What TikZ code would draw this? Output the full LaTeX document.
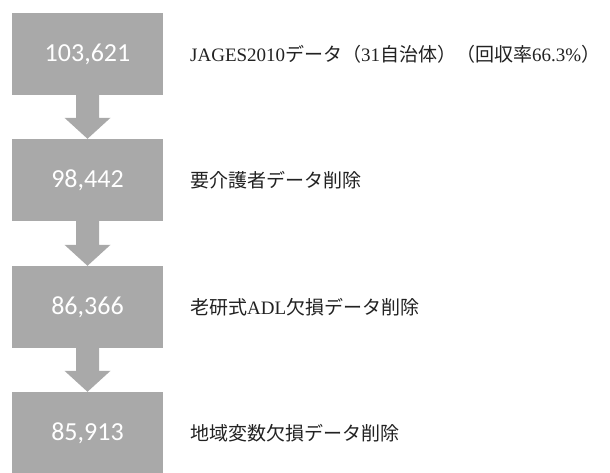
\documentclass[tikz,border=0pt]{standalone}
\usepackage{fontspec}
\setmainfont{Liberation Serif}
\newfontfamily\jpfont{Noto Sans CJK JP}
\newfontfamily\numfont{Carlito}
\usetikzlibrary{calc}
\definecolor{boxgray}{HTML}{A9A9A9}
\definecolor{labelink}{HTML}{222222}
\tikzset{
  x=1pt,y=1pt,
  stepbox/.style={fill=boxgray, draw=none, minimum width=151pt, minimum height=82pt, inner sep=0pt,
    font=\numfont\fontsize{26}{30}\selectfont, text=white},
  steplabel/.style={anchor=west, inner sep=0pt, font=\fontsize{19}{22}\selectfont, text=labelink},
  arrowfill/.style={fill=boxgray, draw=none}
}
\newcommand\flowarrow[2]{%
  \fill[arrowfill] ($(#1.south)+(-11.5,0)$) -- ($(#2.north)+(-11.5,21)$) -- ($(#2.north)+(-23,21)$)
    -- (#2.north) -- ($(#2.north)+(23,21)$) -- ($(#2.north)+(11.5,21)$) -- ($(#1.south)+(11.5,0)$) -- cycle;}
\begin{document}
\begin{tikzpicture}
\useasboundingbox (0,0) rectangle (610,472);
\fill[white] (0,0) rectangle (610,472);
\node[stepbox] (b1) at (87.5,418) {103,621};
\node[stepbox] (b2) at (87.5,292) {98,442};
\node[stepbox] (b3) at (87.5,165) {86,366};
\node[stepbox] (b4) at (87.5,39) {85,913};
\flowarrow{b1}{b2}
\flowarrow{b2}{b3}
\flowarrow{b3}{b4}
\node[steplabel] (l1) at (190,418) {JAGES2010{\jpfont データ（}31{\jpfont 自治体）（回収率}66.3\%{\jpfont ）}};
\node[steplabel] (l2) at (190,292) {\jpfont 要介護者データ削除};
\node[steplabel] (l3) at (190,165) {{\jpfont 老研式}ADL{\jpfont 欠損データ削除}};
\node[steplabel] (l4) at (190,39) {\jpfont 地域変数欠損データ削除};
\end{tikzpicture}
\end{document}
